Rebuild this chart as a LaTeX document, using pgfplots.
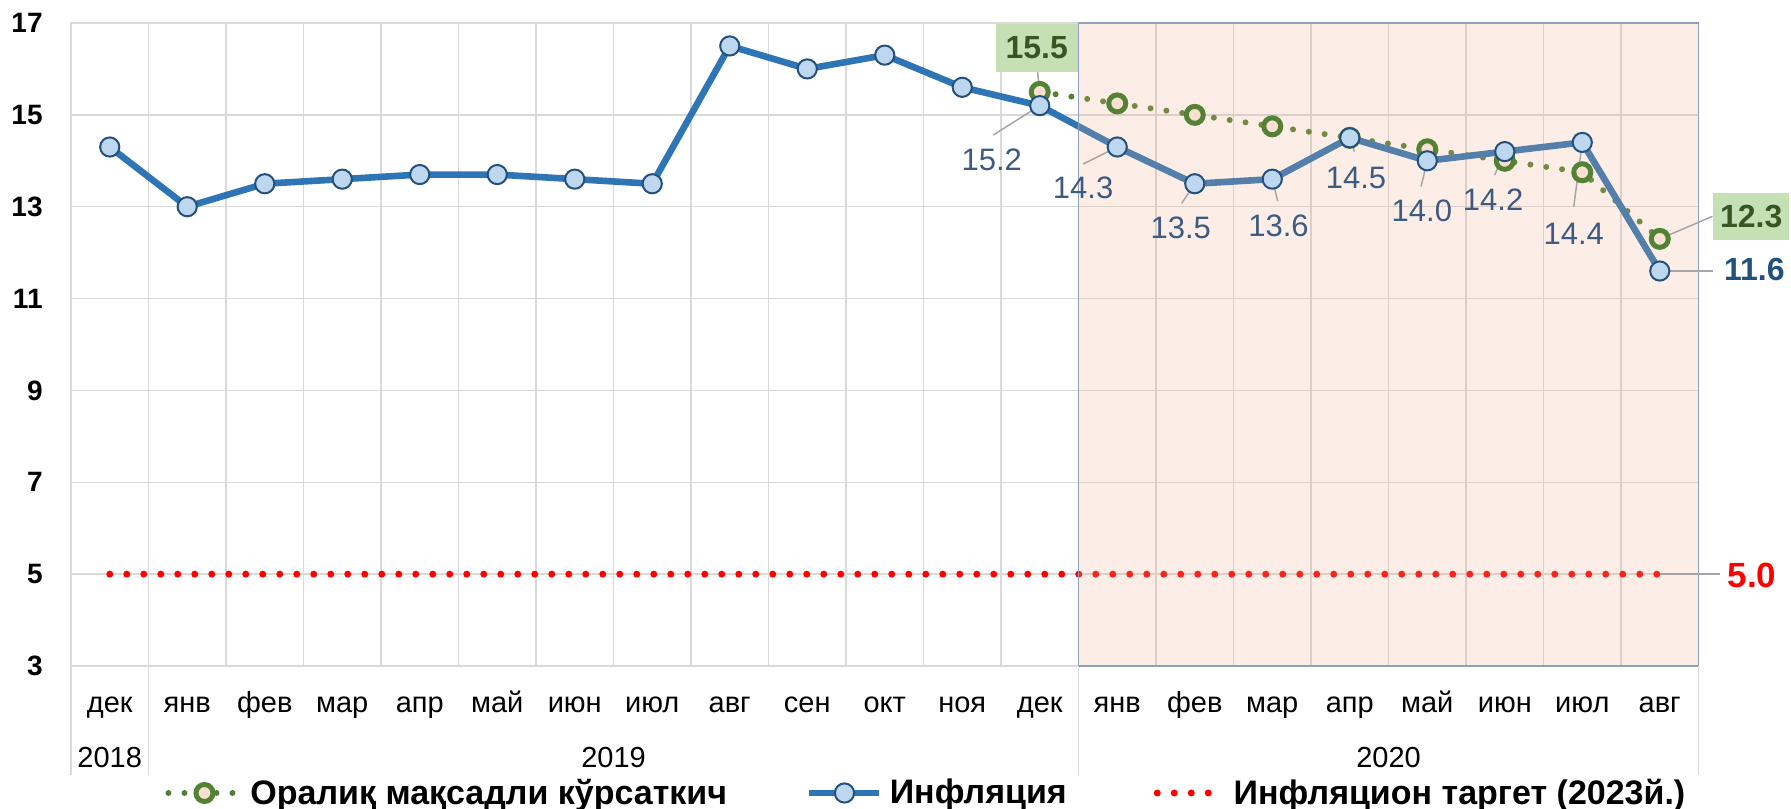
\documentclass[border=0pt]{standalone}
\usepackage{fontspec}
\setmainfont{Liberation Sans}
\usepackage{pgfplots}
\pgfplotsset{compat=1.18}
\definecolor{gridc}{HTML}{D9D9D9}
\definecolor{blueline}{HTML}{2E75B6}
\definecolor{bluefill}{HTML}{BDD7EE}
\definecolor{blueedge}{HTML}{24507E}
\definecolor{greenc}{HTML}{548235}
\definecolor{greenfill}{HTML}{FBE0D2}
\definecolor{boxgreen}{HTML}{C5E0B4}
\definecolor{darkgreen}{HTML}{375623}
\definecolor{lbl}{RGB}{60,90,130}
\definecolor{leader}{HTML}{A6A6A6}
\definecolor{shadecol}{RGB}{240,170,130}
\definecolor{shadeborder}{HTML}{8EA0BC}
\definecolor{redc}{HTML}{FF0000}
\newcommand{\fs}[1]{\fontsize{#1}{#1}\selectfont}
\pgfplotsset{
  legA/.style={legend image code/.code={\draw[mark repeat=2,mark phase=2,##1] plot coordinates {(0pt,0pt) (18pt,0pt) (36pt,0pt)};}},
  legB/.style={legend image code/.code={\draw[mark repeat=2,mark phase=2,##1] plot coordinates {(0pt,0pt) (17.5pt,0pt) (35pt,0pt)};}},
  legC/.style={legend image code/.code={\draw[##1] (0pt,0pt) -- (26pt,0pt);}},
}
\begin{document}
\begin{tikzpicture}
\begin{axis}[
  at={(0pt,0pt)}, anchor=south west,
  width=813.75pt, height=321.5pt, scale only axis,
  xmin=-0.5, xmax=20.5, ymin=3, ymax=17,
  clip=false,
  axis line style={draw=gridc, line width=0.75pt},
  xtick={0,...,20},
  xticklabels={дек,янв,фев,мар,апр,май,июн,июл,авг,сен,окт,ноя,дек,янв,фев,мар,апр,май,июн,июл,авг},
  minor xtick={0.5,1.5,...,19.5},
  xminorgrids=true, xmajorgrids=false,
  ytick={3,5,...,17}, yticklabels={3,5,7,9,11,13,15,17},
  ymajorgrids=true,
  major tick length=0pt, minor tick length=0pt,
  major grid style={draw=gridc, line width=0.75pt},
  minor grid style={draw=gridc, line width=0.75pt},
  xticklabel style={font=\fs{14.5}, anchor=base, yshift=-23.25pt, inner sep=0pt},
  yticklabel style={font=\bfseries\fs{14}, anchor=east, xshift=-14pt, inner sep=0pt},
  legend style={at={(0.0578,-0.1975)}, anchor=west, draw=none, fill=none, inner sep=0pt,
     font=\bfseries\fs{17}, column sep=3.5pt, nodes={inner sep=0pt}},
  legend columns=3,
  legend cell align=left,
]
% intermediate target (green)
\addplot[greenc, line width=3pt, line cap=round, dash pattern=on 0pt off 8pt,
  mark=*, mark size=4.25pt, mark options={solid, draw=greenc, fill=greenfill, line width=2.5pt}, legA]
coordinates {(12,15.5) (13,15.25) (14,15.0) (15,14.75) (16,14.5) (17,14.25) (18,14.0) (19,13.75) (20,12.3)};
\addlegendentry{Оралиқ мақсадли кўрсаткич\rule{36pt}{0pt}}
% inflation (blue)
\addplot[blueline, line width=3.3pt, line join=round,
  mark=*, mark size=4.8pt, mark options={solid, draw=blueedge, fill=bluefill, line width=1pt}, legB]
coordinates {(0,14.3) (1,13.0) (2,13.5) (3,13.6) (4,13.7) (5,13.7) (6,13.6) (7,13.5) (8,16.5) (9,16.0) (10,16.3) (11,15.6) (12,15.2) (13,14.3) (14,13.5) (15,13.6) (16,14.5) (17,14.0) (18,14.2) (19,14.4) (20,11.6)};
\addlegendentry{Инфляция\rule{40pt}{0pt}}
% target (red)
\addplot[redc, line width=3.5pt, line cap=round, dash pattern=on 0pt off 8.5pt, mark=none, legC]
coordinates {(0,5) (1,5) (2,5) (3,5) (4,5) (5,5) (6,5) (7,5) (8,5) (9,5) (10,5) (11,5) (12,5) (13,5) (14,5) (15,5) (16,5) (17,5) (18,5) (19,5) (20,5)};
\addlegendentry{\rule{7pt}{0pt}Инфляцион таргет (2023й.)}
% shaded 2020 region
\fill[shadecol, fill opacity=0.2] (axis cs:12.5,3) rectangle (axis cs:20.5,17);
\draw[shadeborder, line width=0.75pt] (axis cs:12.5,3) rectangle (axis cs:20.5,17);
% separators under axis
\draw[gridc, line width=0.75pt] (axis cs:-0.5,3) -- ++(0pt,-54.5pt);
\draw[gridc, line width=0.75pt] (axis cs:0.5,3) -- ++(0pt,-54.5pt);
\draw[gridc, line width=0.75pt] (axis cs:12.5,3) -- ++(0pt,-54.5pt);
\draw[gridc, line width=0.75pt] (axis cs:20.5,3) -- ++(0pt,-54.5pt);
% years
\node[font=\fs{14.5}, anchor=base, inner sep=0pt, yshift=-50.75pt] at (axis cs:0,3) {2018};
\node[font=\fs{14.5}, anchor=base, inner sep=0pt, yshift=-50.75pt] at (axis cs:6.5,3) {2019};
\node[font=\fs{14.5}, anchor=base, inner sep=0pt, yshift=-50.75pt] at (axis cs:16.5,3) {2020};
% leader lines
\draw[leader, line width=0.75pt] (axis cs:12,15.2) -- (axis cs:11.40,14.56);
\draw[leader, line width=0.75pt] (axis cs:13,14.3) -- (axis cs:12.56,13.93);
\draw[leader, line width=0.75pt] (axis cs:14,13.5) -- (axis cs:13.83,13.07);
\draw[leader, line width=0.75pt] (axis cs:15,13.6) -- (axis cs:15.07,13.12);
\draw[leader, line width=0.75pt] (axis cs:16,14.5) -- (axis cs:16.06,14.2);
\draw[leader, line width=0.75pt] (axis cs:17,14.0) -- (axis cs:16.92,13.44);
\draw[leader, line width=0.75pt] (axis cs:18,14.2) -- (axis cs:17.87,13.69);
\draw[leader, line width=0.75pt] (axis cs:19,14.4) -- (axis cs:18.89,13.0);
\draw[leader, line width=0.75pt] (axis cs:12,15.5) -- (axis cs:11.97,15.96);
\draw[leader, line width=0.75pt] (axis cs:20,12.3) -- (axis cs:20.68,12.79);
\draw[leader, line width=0.75pt] (axis cs:20,11.6) -- (axis cs:20.69,11.6);
\draw[leader, line width=0.75pt] (axis cs:20,5) -- (axis cs:20.78,5);
% labels
\node[text=lbl, font=\fs{15.5}] at (axis cs:11.38,14.02) {15.2};
\node[text=lbl, font=\fs{15.5}] at (axis cs:12.56,13.41) {14.3};
\node[text=lbl, font=\fs{15.5}] at (axis cs:13.82,12.54) {13.5};
\node[text=lbl, font=\fs{15.5}] at (axis cs:15.08,12.58) {13.6};
\node[text=lbl, font=\fs{15.5}] at (axis cs:16.08,13.62) {14.5};
\node[text=lbl, font=\fs{15.5}] at (axis cs:16.93,12.91) {14.0};
\node[text=lbl, font=\fs{15.5}] at (axis cs:17.85,13.15) {14.2};
\node[text=lbl, font=\fs{15.5}] at (axis cs:18.89,12.42) {14.4};
\node[fill=boxgreen, text=darkgreen, font=\bfseries\fs{16}, minimum width=41pt, minimum height=24pt, inner sep=0pt] at (axis cs:11.96,16.46) {15.5};
\node[fill=boxgreen, text=darkgreen, font=\bfseries\fs{16}, minimum width=38pt, minimum height=23.5pt, inner sep=0pt] at (axis cs:21.18,12.79) {12.3};
\node[text=blueedge, font=\bfseries\fs{16}] at (axis cs:21.22,11.64) {11.6};
\node[text=redc, font=\bfseries\fs{17.5}] at (axis cs:21.19,4.98) {5.0};
\end{axis}
\pgfresetboundingbox
\useasboundingbox (-35.5pt,-71pt) rectangle (860pt,333pt);
\end{tikzpicture}
\end{document}
